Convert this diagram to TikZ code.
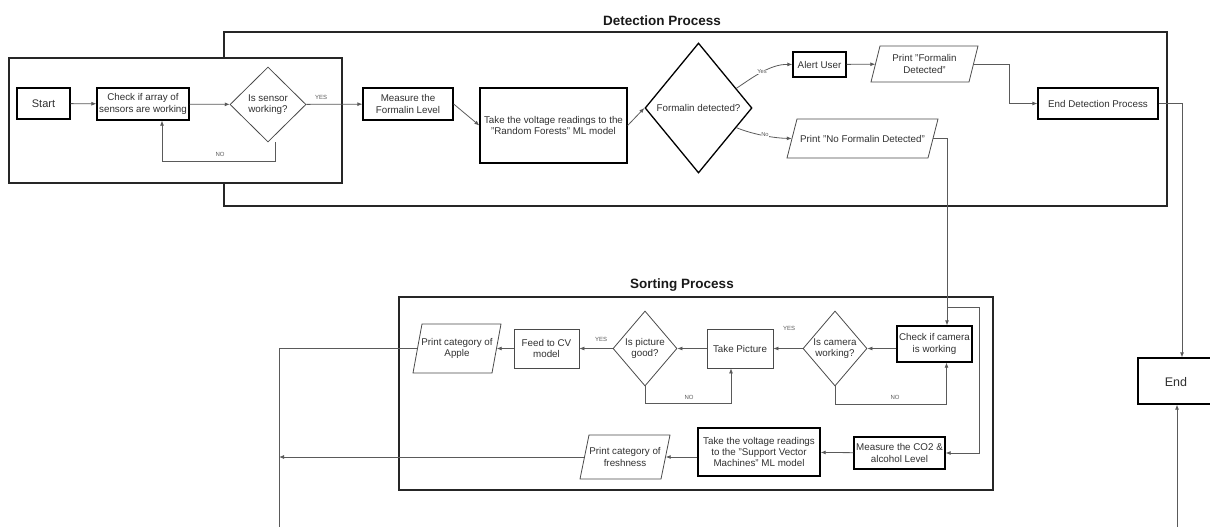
\documentclass[tikz,border=0pt]{standalone}
\usepackage{fontspec}
\setmainfont{Liberation Sans}
\usetikzlibrary{shapes.geometric,arrows.meta,calc}
\definecolor{cline}{HTML}{5A5A5A}
\definecolor{cthin}{HTML}{4A4A4A}
\definecolor{ctext}{HTML}{303030}
\tikzset{
 every node/.style={font=\fontsize{9.8}{11.3}\selectfont, text=ctext},
 thickbox/.style={draw=black, line width=1.3pt, rectangle, inner sep=0pt, align=center},
 thinbox/.style={draw=cthin, line width=0.8pt, rectangle, inner sep=0pt, align=center},
 dia/.style={diamond, draw=cthin, line width=0.8pt, inner sep=0pt},
 thickdia/.style={diamond, draw=black, line width=1.3pt, inner sep=0pt},
 arr/.style={draw=cline, line width=0.8pt, -{Latex[length=5pt,width=4pt]}},
 plain/.style={draw=cline, line width=0.8pt},
 lbl/.style={font=\fontsize{6}{7}\selectfont, text=cline, inner sep=0.5pt},
 tiny/.style={font=\fontsize{5.8}{6.5}\selectfont, text=cline, fill=white, inner sep=0.3pt},
 container/.style={draw=black!85, line width=1.8pt},
 ttl/.style={font=\fontsize{13.5}{15}\selectfont\bfseries, text=black!90},
}
\newcommand\pgram[7]{%
 \draw[draw=cthin,line width=0.8pt] ({#2+#6},#4) -- (#3,#4) -- ({#3-#6},#5) -- (#2,#5) -- cycle;
 \node[inner sep=0pt, minimum width={#3-#2-#6}, minimum height={#5-#4}, align=center] (#1) at ({(#2+#3)/2},{(#4+#5)/2}) {#7};
}
\begin{document}
\begin{tikzpicture}[x=1pt,y=-1pt]
\useasboundingbox (0,0) rectangle (1210,527);
% containers
\draw[container] (224,32) rectangle (1167,206);
\draw[container, fill=white] (9,58) rectangle (342,183);
\draw[container] (399,297) rectangle (993,490);
\node[ttl] (t1) at (662,21) {Detection Process};
\node[ttl] (t2) at (682,285) {Sorting Process};
% detection nodes
\node[thickbox, minimum width=53, minimum height=31, font=\fontsize{11}{13}\selectfont] (st) at (43.5,103.5) {Start};
\node[thickbox, minimum width=92, minimum height=32] (ca) at (143,104) {Check if array of\\sensors are working};
\node[dia, minimum width=76, minimum height=75, label={[align=center]center:Is sensor\\working?}] (sd) at (268,104.5) {};
\node[thickbox, minimum width=90, minimum height=32] (mf) at (408,104) {Measure the\\Formalin Level};
\node[thickbox, minimum width=147, minimum height=75] (rf) at (553.5,125.5) {Take the voltage readings to the\\"Random Forests" ML model};
\node[thickdia, minimum width=107, minimum height=130, label={center:Formalin detected?}] (fd) at (698.5,108) {};
\node[thickbox, minimum width=53, minimum height=25] (al) at (819.5,64.5) {Alert User};
\pgram{pfd}{871}{978}{46}{82}{9}{Print "Formalin\\Detected"}
\node[thickbox, minimum width=120, minimum height=31] (ed) at (1098,103.5) {End Detection Process};
\node[thickbox, minimum width=78, minimum height=46, font=\fontsize{12.5}{14}\selectfont] (en) at (1177,381) {};
\node[font=\fontsize{12.5}{14}\selectfont] (ent) at (1176,382) {End};
\pgram{pnf}{787}{938}{119}{158}{10}{Print "No Formalin Detected"}
% sorting nodes
\node[thickbox, minimum width=75, minimum height=36] (cc) at (934.5,344) {Check if camera\\is working};
\node[dia, minimum width=64, minimum height=75, label={[align=center]center:Is camera\\working?}] (camd) at (835,348.5) {};
\node[thinbox, minimum width=66, minimum height=39] (tp) at (740,348.5) {Take Picture};
\node[dia, minimum width=64, minimum height=75, label={[align=center]center:Is picture\\good?}] (pg) at (645,348.5) {};
\node[thinbox, minimum width=65, minimum height=39] (fc) at (546.5,348.5) {Feed to CV\\model};
\pgram{pa}{413}{501}{324}{373}{9}{Print category of\\Apple}
\node[thickbox, minimum width=91, minimum height=32] (mc) at (899.5,453) {Measure the CO2 \&\\alcohol Level};
\node[thickbox, minimum width=122, minimum height=48] (svm) at (759,452) {Take the voltage readings\\to the "Support Vector\\Machines" ML model};
\pgram{pfr}{580}{670}{435}{479}{9}{Print category of\\freshness}
% connectors detection
\draw[arr] (st) -- (ca);
\draw[arr] (ca) -- (sd);
\draw[arr] (sd) -- (mf);
\node[lbl] (ly1) at (321,97) {YES};
\draw[arr] ($(sd.south)+(7,0)$) -- ++(0,19) -| ($(ca.south)+(19,0)$);
\node[lbl] (ln1) at (220,154) {NO};
\draw[arr] (mf.east) -- (rf.west);
\draw[arr] (rf.east) -- (fd.west);
\draw[arr] ($(fd.north)!0.7!(fd.east)$) .. controls (752,78) and (770,64) .. (al.west);
\node[tiny] (ly2) at (762,72) {Yes};
\draw[arr] ($(fd.south)!0.7!(fd.east)$) .. controls (752,134) and (772,138) .. (pnf.west);
\node[tiny] (ln2) at (765,135) {No};
\draw[arr] (al) -- (pfd);
\draw[arr] (pfd.east) -- ++(36,0) |- (ed.west);
\draw[arr] (ed.east) -| ($(en.north)+(5,0)$);
\coordinate (eb) at (1177,527);
\draw[arr] (eb) -- (en.south);
\draw[arr] (pnf.east) -| ($(cc.north)+(12.5,0)$);
\coordinate (br) at (947,307);
\draw[arr] (br) -- ++(32,0) |- (mc.east);
% connectors sorting
\draw[arr] (cc.west |- camd.east) -- (camd.east);
\draw[arr] (camd.west) -- (tp.east);
\node[lbl] (ly3) at (789,328) {YES};
\draw[arr] (camd.south) -- ++(0,18) -| ($(cc.south)+(12,0)$);
\node[lbl] (ln3) at (895,397) {NO};
\draw[arr] (tp) -- (pg);
\draw[arr] (pg.south) -- ++(0,17) -| ($(tp.south)+(-9,0)$);
\node[lbl] (ln4) at (689,397) {NO};
\draw[arr] (pg) -- (fc);
\node[lbl] (ly4) at (601,339) {YES};
\draw[arr] (fc) -- (pa);
\coordinate (bl) at (279,527);
\draw[plain] (pa.west) -| (bl);
\draw[arr] (mc) -- (svm);
\draw[arr] (svm.west |- pfr.east) -- (pfr.east);
\draw[arr] (pfr.west) -- (pfr.west -| bl);
\end{tikzpicture}
\end{document}
